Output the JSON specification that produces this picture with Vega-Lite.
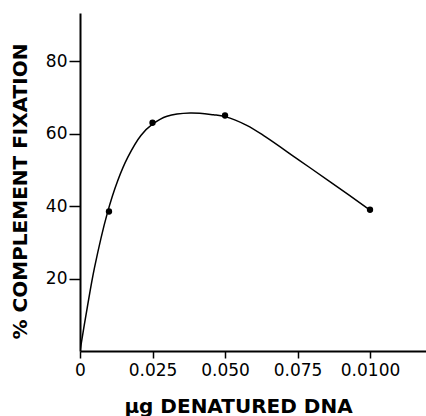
{
  "$schema": "https://vega.github.io/schema/vega-lite/v6.json",
  "width": 346,
  "height": 338,
  "autosize": {"type": "none"},
  "padding": {"left": 80, "top": 13, "right": 0, "bottom": 65},
  "background": "white",
  "config": {
    "view": {"stroke": null},
    "axis": {"grid": false, "domainColor": "black", "tickColor": "black", "labelColor": "black", "titleColor": "black", "labelFont": "DejaVu Sans", "titleFont": "DejaVu Sans", "labelFontSize": 17, "titleFontSize": 20, "titleFontWeight": "bold", "domainWidth": 2, "tickWidth": 1.5}
  },
  "datasets": {
    "curve": [
      {"dna": 0, "fix": 0},
      {"dna": 0.0025, "fix": 12},
      {"dna": 0.005, "fix": 23},
      {"dna": 0.0094, "fix": 38},
      {"dna": 0.013, "fix": 47},
      {"dna": 0.0165, "fix": 53.5},
      {"dna": 0.021, "fix": 59.5},
      {"dna": 0.025, "fix": 62.6},
      {"dna": 0.03, "fix": 64.8},
      {"dna": 0.038, "fix": 65.7},
      {"dna": 0.046, "fix": 65.2},
      {"dna": 0.05, "fix": 64.7},
      {"dna": 0.0575, "fix": 62.3},
      {"dna": 0.064, "fix": 59.1},
      {"dna": 0.0755, "fix": 52.7},
      {"dna": 0.087, "fix": 46.3},
      {"dna": 0.1, "fix": 38.9}
    ],
    "points": [
      {"dna": 0.01, "fix": 38.5},
      {"dna": 0.025, "fix": 63},
      {"dna": 0.05, "fix": 65},
      {"dna": 0.1, "fix": 39}
    ]
  },
  "layer": [
    {
      "data": {"name": "curve"},
      "mark": {"type": "line", "color": "black", "strokeWidth": 1.5, "interpolate": "catmull-rom", "clip": true},
      "encoding": {
        "x": {"field": "dna", "type": "quantitative", "scale": {"domain": [0, 0.1193], "nice": false, "zero": true},
          "axis": {"values": [0, 0.025, 0.05, 0.075, 0.1], "labelExpr": "datum.value == 0 ? '0' : datum.value == 0.1 ? '0.0100' : format(datum.value, '.3f')", "tickSize": 7, "labelPadding": 4, "labelFlush": false, "title": "µg DENATURED DNA", "titleX": 158, "titleY": 61, "titleBaseline": "alphabetic", "titleAnchor": "middle", "titleAlign": "center"}},
        "y": {"field": "fix", "type": "quantitative", "scale": {"domain": [0, 93.3], "nice": false},
          "axis": {"values": [20, 40, 60, 80], "tickSize": 11, "labelPadding": 2, "title": "% COMPLEMENT FIXATION", "titleAngle": -90, "titleX": -53.5, "titleY": 178, "titleBaseline": "alphabetic", "titleAlign": "center"}}
      }
    },
    {
      "data": {"name": "points"},
      "mark": {"type": "point", "filled": true, "color": "black", "size": 40, "opacity": 1},
      "encoding": {
        "x": {"field": "dna", "type": "quantitative"},
        "y": {"field": "fix", "type": "quantitative"}
      }
    }
  ]
}
